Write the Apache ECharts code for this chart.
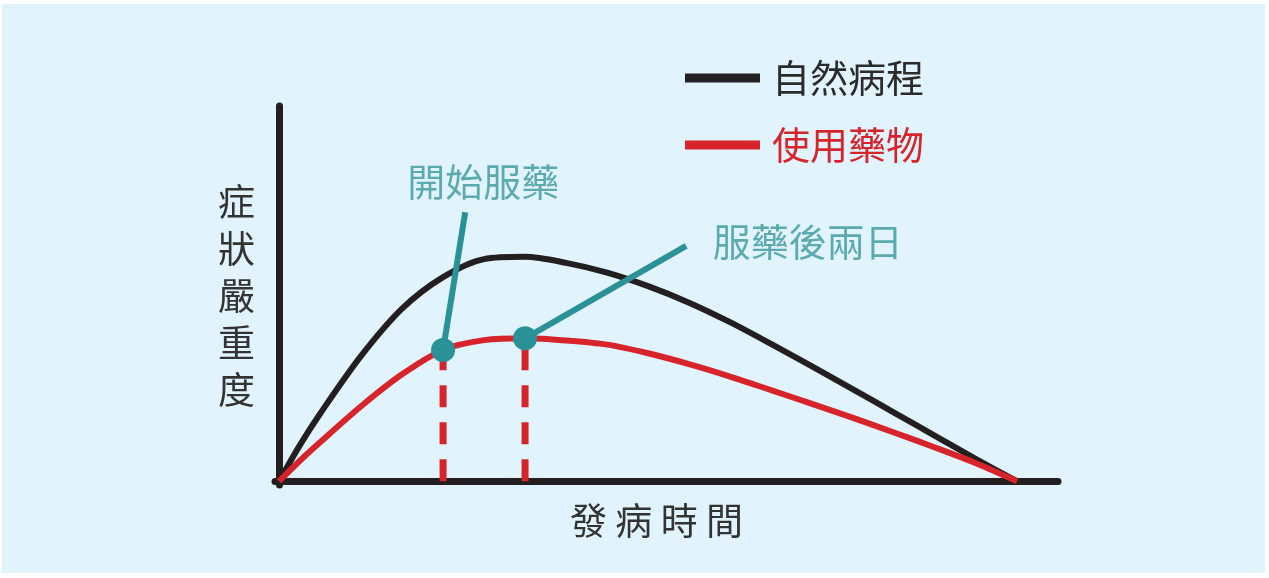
<!DOCTYPE html>
<html>
<head>
<meta charset="utf-8">
<script src="https://cdn.jsdelivr.net/npm/echarts@6/dist/echarts.min.js"></script>
<style>
  html, body { margin: 0; padding: 0; background: #ffffff; }
  #bg { position: absolute; left: 2px; top: 4px; width: 1263px; height: 569px; background: #e1f3fd; }
  #chart { position: absolute; left: 0; top: 0; width: 1269px; height: 578px; }
</style>
</head>
<body>
<div id="bg"></div>
<div id="chart"></div>
<script>
// 發病後天數
var days = [0, 0.5, 1, 2, 3, 4, 5, 6, 7, 8, 9, 10, 11, 12, 13, 14, 15, 16, 17, 18];
// 自然病程 症狀嚴重度
var naturalCourse = [0, 9.5, 18, 33.4, 46.0, 54.4, 59.2, 59.8, 58.2, 55.6, 52.0, 47.6, 42.4, 36.6, 30.6, 24.5, 18.3, 12.1, 5.9, 0];
// 使用藥物 症狀嚴重度
var withMedicine = [0, 5.4, 10.4, 20.0, 28.5, 35.0, 37.6, 38.1, 37.5, 36.4, 34.1, 31.2, 27.9, 24.3, 20.6, 16.9, 13.0, 9.0, 4.8, 0];
// 開始服藥、服藥後兩日
var doseDays = [4, 6];
var doseNames = ['開始服藥', '服藥後兩日'];
// 標示線的另一端
var leaderEnds = [[4.54, 71.7], [9.93, 62.7]];

var BLACK = '#231f20', RED = '#d7242b', TEAL = '#2a9196', TEAL_TEXT = '#3a979c';
var FONT = '"Noto Sans CJK TC", "Noto Sans CJK SC", sans-serif';

function pairs(xs, ys) {
    return xs.map(function (x, i) { return [x, ys[i]]; });
}
function redAt(d) {
    return withMedicine[days.indexOf(d)];
}

var myChart = echarts.init(document.getElementById('chart'), null, { renderer: 'canvas' });

var series = [
    {
        name: '自然病程',
        type: 'line',
        data: pairs(days, naturalCourse),
        smooth: 0.3,
        symbol: 'none',
        color: BLACK,
        lineStyle: { color: BLACK, width: 6 },
        z: 2
    },
    {
        name: '使用藥物',
        type: 'line',
        data: pairs(days, withMedicine),
        smooth: 0.3,
        symbol: 'none',
        color: RED,
        lineStyle: { color: RED, width: 6 },
        z: 3
    }
];

// 紅色虛線
doseDays.forEach(function (d) {
    series.push({
        type: 'line',
        data: [[d, 0], [d, redAt(d)]],
        symbol: 'none',
        lineStyle: { color: RED, width: 7, type: [22, 15] },
        z: 3
    });
});

// 綠色標示線
doseDays.forEach(function (d, i) {
    series.push({
        type: 'line',
        data: [[d, redAt(d)], leaderEnds[i]],
        symbol: 'none',
        lineStyle: { color: TEAL, width: 6, cap: 'butt' },
        z: 4
    });
});

// 標示文字
series.push({
    type: 'scatter',
    symbolSize: 1,
    itemStyle: { color: 'rgba(0,0,0,0)' },
    data: [
        {
            value: leaderEnds[0],
            label: { show: true, formatter: doseNames[0], position: 'top', distance: 11, offset: [18, 0] }
        },
        {
            value: leaderEnds[1],
            label: { show: true, formatter: doseNames[1], position: 'right', distance: 26, offset: [0, -4] }
        }
    ],
    label: { color: TEAL_TEXT, fontSize: 38, fontFamily: FONT },
    z: 5
});

// 服藥點
series.push({
    type: 'scatter',
    data: doseDays.map(function (d) { return [d, redAt(d)]; }),
    symbol: 'circle',
    symbolSize: 24,
    itemStyle: { color: TEAL, opacity: 1 },
    z: 6
});

var option = {
    backgroundColor: 'transparent',
    animation: false,
    grid: { left: 275, right: 211, top: 106, bottom: 93, containLabel: false },
    legend: {
        orient: 'vertical',
        left: 680,
        top: 53,
        itemWidth: 75,
        itemHeight: 9,
        itemGap: 27,
        icon: 'rect',
        selectedMode: false,
        textStyle: { fontSize: 38, fontFamily: FONT, lineHeight: 40, padding: [0, 0, 0, 7] },
        data: [
            { name: '自然病程', textStyle: { color: '#2b2b2b' } },
            { name: '使用藥物', textStyle: { color: RED } }
        ]
    },
    xAxis: {
        type: 'value',
        min: -0.1,
        max: 19,
        name: '發 病 時 間',
        nameLocation: 'middle',
        nameGap: 17,
        nameTextStyle: { color: '#333333', fontSize: 37, fontFamily: FONT, padding: [0, 20, 0, 0] },
        axisLine: { onZero: true, lineStyle: { color: BLACK, width: 7 } },
        axisTick: { show: false },
        axisLabel: { show: false },
        splitLine: { show: false }
    },
    yAxis: {
        type: 'value',
        min: -1,
        max: 100,
        name: '症\n狀\n嚴\n重\n度',
        nameLocation: 'middle',
        nameRotate: 0,
        nameGap: 20,
        nameTextStyle: { color: '#333333', fontSize: 37, fontFamily: FONT, lineHeight: 47 },
        axisLine: { show: true, onZero: true, lineStyle: { color: BLACK, width: 7 } },
        axisTick: { show: false },
        axisLabel: { show: false },
        splitLine: { show: false }
    },
    series: series
};

myChart.setOption(option);
window.addEventListener('resize', function () {
    myChart.resize();
});
</script>
</body>
</html>
